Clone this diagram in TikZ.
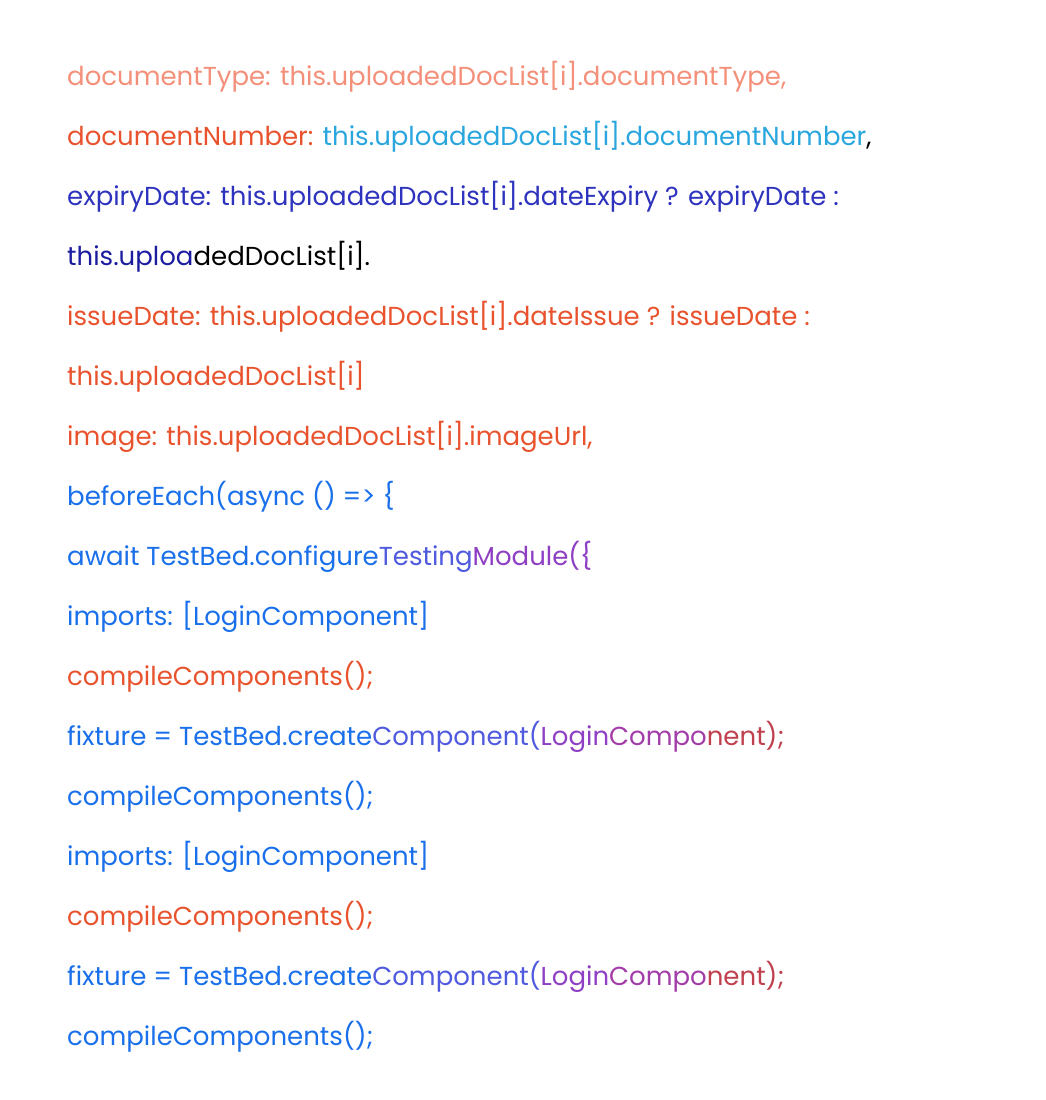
\documentclass[tikz,border=0pt]{standalone}
\usepackage{fontspec}
\setmainfont{Poppins}
\definecolor{salmon}{HTML}{F4907A}
\definecolor{orng}{HTML}{E8532E}
\definecolor{cyanb}{HTML}{2AA6DE}
\definecolor{navy}{HTML}{2E33BE}
\definecolor{dnavy}{HTML}{1C1CA0}
\definecolor{bl}{HTML}{1A70EA}
\definecolor{ind}{HTML}{4F5ADF}
\definecolor{pur}{HTML}{8E3FC4}
\definecolor{pur2}{HTML}{A23CA8}
\definecolor{rb}{HTML}{C0404E}
\begin{document}
\begin{tikzpicture}[x=1pt,y=-1pt,
  ln/.style={anchor=base west,inner sep=0pt,font=\fontsize{26}{30}\selectfont}]
\useasboundingbox (0,0) rectangle (1046,1100);
\fill[white] (0,0) rectangle (1046,1100);
\node[ln,text=salmon] (l1) at (67,85) {documentType: this.uploadedDocList[i].documentType,};
\node[ln] (l2) at (67,145) {\textcolor{orng}{documentNumber:} \textcolor{cyanb}{this.uploadedDocList[i].documentNumber},};
\node[ln,text=navy] (l3) at (67,205) {expiryDate: this.uploadedDocList[i].dateExpiry ? expiryDate :};
\node[ln] (l4) at (67,265) {\textcolor{dnavy}{this.uploa}dedDocList[i].};
\node[ln,text=orng] (l5) at (67,325) {issueDate: this.uploadedDocList[i].dateIssue ? issueDate :};
\node[ln,text=orng] (l6) at (67,385) {this.uploadedDocList[i]};
\node[ln,text=orng] (l7) at (67,445) {image: this.uploadedDocList[i].imageUrl,};
\node[ln,text=bl] (l8) at (67,505) {beforeEach(async () => \{};
\node[ln] (l9) at (67,565) {\textcolor{bl}{await TestBed.configure}\textcolor{ind}{Testing}\textcolor{pur}{Module(\{}};
\node[ln,text=bl] (l10) at (67,625) {imports: [LoginComponent]};
\node[ln,text=orng] (l11) at (67,685) {compileComponents();};
\node[ln] (l12) at (67,745) {\textcolor{bl}{fixture = TestBed.create}\textcolor{ind}{Component(}\textcolor{pur}{Login}\textcolor{pur2}{Compo}\textcolor{rb}{nent);}};
\node[ln,text=bl] (l13) at (67,805) {compileComponents();};
\node[ln,text=bl] (l14) at (67,865) {imports: [LoginComponent]};
\node[ln,text=orng] (l15) at (67,925) {compileComponents();};
\node[ln] (l16) at (67,985) {\textcolor{bl}{fixture = TestBed.create}\textcolor{ind}{Component(}\textcolor{pur}{Login}\textcolor{pur2}{Compo}\textcolor{rb}{nent);}};
\node[ln,text=bl] (l17) at (67,1045) {compileComponents();};
\end{tikzpicture}
\end{document}
